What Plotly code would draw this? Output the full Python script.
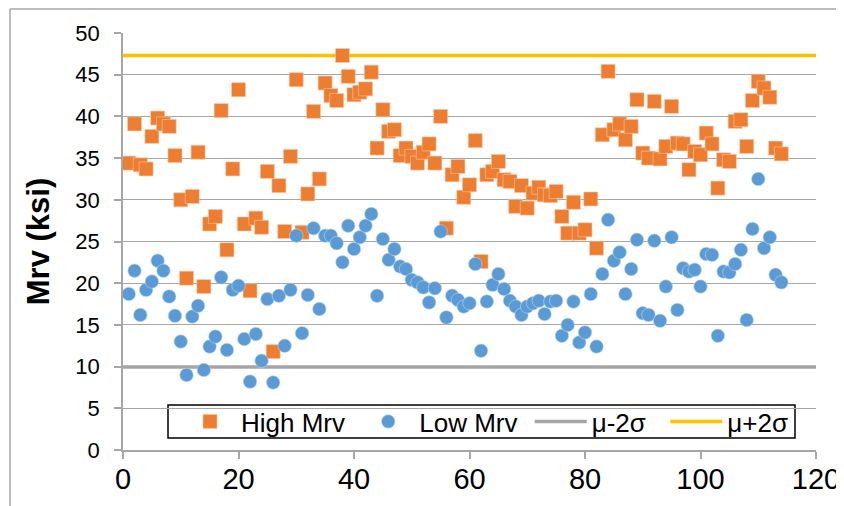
import plotly.graph_objects as go

sample_no = list(range(1, 115))

high_mrv = [34.4, 39.1, 34.2, 33.7, 37.6, 39.8, 39.1, 38.8, 35.3, 30.0,
            20.6, 30.4, 35.7, 19.6, 27.1, 28.0, 40.7, 24.0, 33.7, 43.2,
            27.1, 19.1, 27.8, 26.7, 33.4, 11.8, 31.7, 26.2, 35.2, 44.4,
            26.1, 30.7, 40.6, 32.5, 44.0, 42.5, 41.9, 47.3, 44.8, 42.6,
            42.9, 43.3, 45.3, 36.2, 40.8, 38.2, 38.4, 35.3, 36.2, 35.2,
            34.4, 35.7, 36.7, 34.4, 40.0, 26.6, 33.0, 34.0, 30.3, 31.8,
            37.1, 22.6, 33.0, 33.4, 34.6, 32.4, 32.2, 29.2, 31.7, 29.0,
            30.8, 31.5, 30.6, 30.5, 31.0, 28.0, 26.0, 29.7, 26.0, 26.4,
            30.1, 24.2, 37.8, 45.4, 38.4, 39.1, 37.2, 38.8, 42.0, 35.6,
            35.0, 41.8, 34.9, 36.4, 41.2, 36.8, 36.7, 33.6, 35.8, 35.4,
            38.0, 36.7, 31.4, 34.8, 34.6, 39.4, 39.6, 36.4, 41.9, 44.2,
            43.4, 42.3, 36.2, 35.5]

low_mrv = [18.7, 21.5, 16.2, 19.2, 20.2, 22.7, 21.5, 18.4, 16.1, 13.0,
           9.0, 16.0, 17.3, 9.6, 12.4, 13.6, 20.7, 12.0, 19.2, 19.7,
           13.3, 8.2, 13.9, 10.7, 18.1, 8.1, 18.5, 12.5, 19.2, 25.7,
           14.0, 18.6, 26.6, 16.9, 25.7, 25.7, 24.8, 22.5, 26.9, 24.1,
           25.5, 26.9, 28.3, 18.5, 25.3, 22.8, 24.1, 22.0, 21.7, 20.4,
           20.1, 19.5, 17.7, 19.4, 26.2, 15.9, 18.5, 18.0, 17.2, 17.6,
           22.3, 11.9, 17.8, 19.8, 21.1, 19.3, 17.9, 17.2, 16.2, 17.2,
           17.6, 17.9, 16.3, 17.8, 17.9, 13.7, 15.0, 17.8, 12.9, 14.1,
           18.7, 12.4, 21.1, 27.6, 22.7, 23.7, 18.7, 21.7, 25.2, 16.4,
           16.2, 25.1, 15.5, 19.6, 25.5, 16.8, 21.8, 21.4, 21.6, 19.6,
           23.5, 23.4, 13.7, 21.4, 21.3, 22.3, 24.0, 15.6, 26.5, 32.5,
           24.2, 25.5, 21.0, 20.1]

line_x = [0, 120]
mu_minus_2sigma = [9.95, 9.95]
mu_plus_2sigma = [47.3, 47.3]

x_ticks = [0, 20, 40, 60, 80, 100, 120]
y_ticks = [0, 5, 10, 15, 20, 25, 30, 35, 40, 45, 50]

FONT = "Liberation Sans, Arial, sans-serif"
OFF = 8  # page body margin
W, H = 844 - OFF, 506 - OFF
PL, PT, PR, PB = 123, 33, 816, 450  # plot area in page pixels
ML, MT = PL - OFF, PT - OFF
MR, MB = W - (PR - OFF), H - (PB - OFF)
PW, PH = PR - PL, PB - PT


def px_x(p):
    return (p - PL) / PW


def px_y(p):
    return (PB - p) / PH


NB = "\u00a0"

fig = go.Figure()
fig.add_trace(go.Scatter(x=line_x, y=mu_minus_2sigma, mode="lines", name="μ-2σ" + NB + NB,
                         line=dict(color="#A5A5A5", width=3.5), legendrank=3))
fig.add_trace(go.Scatter(x=line_x, y=mu_plus_2sigma, mode="lines", name="μ+2σ",
                         line=dict(color="#FFC000", width=3.5), legendrank=4))
fig.add_trace(go.Scatter(x=sample_no, y=high_mrv, mode="markers", name="High Mrv" + NB,
                         marker=dict(symbol="square", size=14, color="#ED7D31",
                                     line=dict(width=0.6, color="#F8C9A8")), legendrank=1))
fig.add_trace(go.Scatter(x=sample_no, y=low_mrv, mode="markers", name="Low Mrv" + NB,
                         marker=dict(symbol="circle", size=13.5, color="#5B9BD5",
                                     line=dict(width=0.6, color="#BCD6EE")), legendrank=2))

frame = "#A6A6A6"
fig.update_layout(
    width=W, height=H,
    margin=dict(l=ML, r=MR, t=MT, b=MB, autoexpand=False),
    paper_bgcolor="white", plot_bgcolor="white",
    font=dict(family=FONT, color="black"),
    showlegend=True,
    legend=dict(orientation="h", x=px_x(179), y=px_y(421.5), xanchor="left", yanchor="middle",
                bgcolor="rgba(0,0,0,0)", borderwidth=0,
                font=dict(size=26, family=FONT), itemwidth=52,
                tracegroupgap=0),
    xaxis=dict(range=[0, 120], tickvals=x_ticks, showgrid=False, zeroline=False,
               showline=True, linecolor=frame, linewidth=1.5, automargin=False,
               ticks="outside", ticklen=7, tickcolor=frame, tickwidth=1.5,
               tickfont=dict(size=29, family=FONT), ticklabelstandoff=-5),
    yaxis=dict(range=[0, 50], tickvals=y_ticks, showgrid=True, gridcolor=frame, gridwidth=1.3,
               zeroline=False, showline=True, linecolor=frame, linewidth=1.5, automargin=False,
               ticks="outside", ticklen=7, tickcolor=frame, tickwidth=1.5,
               tickfont=dict(size=22, family=FONT), ticklabelstandoff=10,
               title=dict(text="<b>Mrv (ksi)</b>", font=dict(size=31, family=FONT), standoff=17)),
    shapes=[
        dict(type="rect", xref="paper", yref="paper", layer="below",
             x0=px_x(168), x1=px_x(795), y0=px_y(438), y1=px_y(405),
             fillcolor="white", line=dict(color="black", width=1.5)),
        dict(type="line", xref="paper", yref="paper", x0=px_x(10), x1=px_x(10), y0=px_y(9), y1=px_y(520),
             line=dict(color=frame, width=1.5)),
        dict(type="line", xref="paper", yref="paper", x0=px_x(10), x1=px_x(860), y0=px_y(9), y1=px_y(9),
             line=dict(color=frame, width=1.5)),
    ],
)

fig.write_html("out.html")
